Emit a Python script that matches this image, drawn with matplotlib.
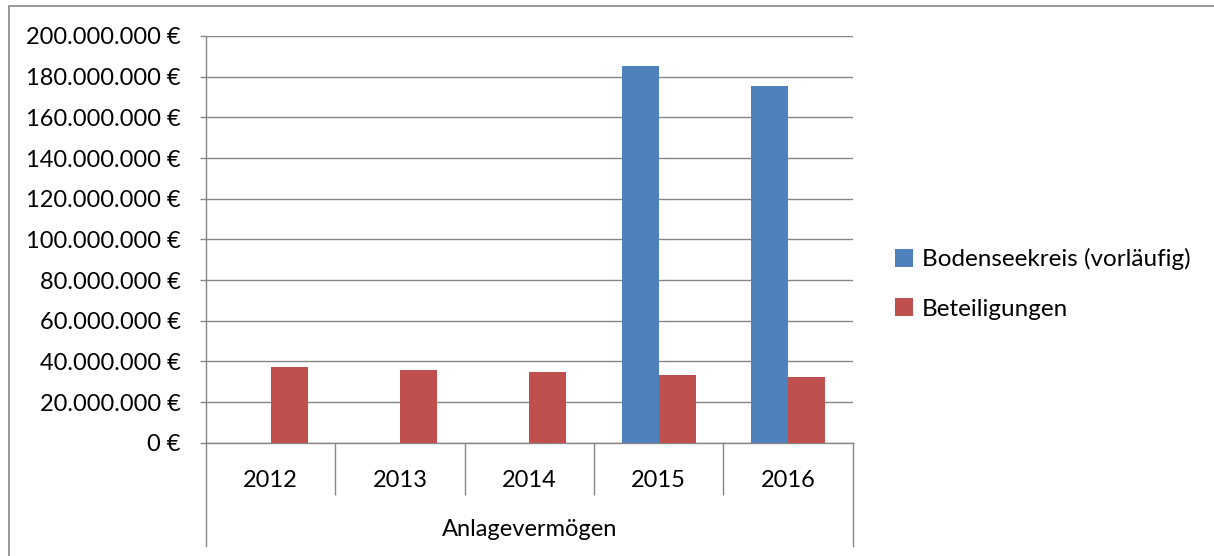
import matplotlib.pyplot as plt
import matplotlib.ticker as mticker
import matplotlib.transforms as mtransforms
from matplotlib.patches import Rectangle
import numpy as np

plt.rcParams['font.family'] = ['Lato', 'DejaVu Sans']

years = ['2012', '2013', '2014', '2015', '2016']
bodensee = [0, 0, 0, 185.4e6, 175.2e6]
beteiligungen = [37.4e6, 35.8e6, 34.7e6, 33.4e6, 32.3e6]
series_names = ['Bodenseekreis (vorläufig)', 'Beteiligungen']
group_label = 'Anlagevermögen'

W, H = 1214, 556
grey = '#868686'
fs = 17

fig = plt.figure(figsize=(W / 100, H / 100), dpi=100)
ax = fig.add_axes([206 / W, 1 - 442.7 / H, 646.7 / W, 406.7 / H])

x = np.arange(len(years))
bw = 1 / 3.5
b1 = ax.bar(x - bw / 2, bodensee, bw, color='#4F81BD', zorder=3, label=series_names[0])
b2 = ax.bar(x + bw / 2, beteiligungen, bw, color='#C0504D', zorder=3, label=series_names[1])

ax.set_xlim(-0.5, len(years) - 0.5)
ax.set_ylim(0, 200e6)
ax.yaxis.set_major_locator(mticker.MultipleLocator(20e6))
ax.yaxis.set_major_formatter(mticker.FuncFormatter(
    lambda v, p: f'{int(round(v)):,}'.replace(',', '.') + ' €'))
ax.grid(axis='y', color=grey, linewidth=1.0, zorder=0)

for s in ['top', 'right']:
    ax.spines[s].set_visible(False)
for s in ['left', 'bottom']:
    ax.spines[s].set_color(grey)
    ax.spines[s].set_linewidth(1.0)

ax.tick_params(axis='y', direction='out', length=4.3, width=1.0, color=grey,
               pad=14, labelsize=fs)
ax.set_xticks(x)
ax.set_xticklabels(years)
ax.tick_params(axis='x', which='major', length=0, pad=20, labelsize=fs)
ax.set_xticks(x[:-1] + 0.5, minor=True)
ax.tick_params(axis='x', which='minor', direction='out', length=37.5, width=1.0, color=grey)

# outer boundary lines of the category table below the axis
trans = mtransforms.blended_transform_factory(ax.transData, ax.transAxes)
for xe in [-0.5, len(years) - 0.5]:
    ax.plot([xe, xe], [0, -(546 - 442.7) / 406.7], color=grey, linewidth=1.0,
            transform=trans, clip_on=False)

ax.text(0.5, -(529 - 442.7) / 406.7, group_label, transform=ax.transAxes,
        ha='center', va='center', fontsize=fs)

fig.legend(handles=[b1, b2], loc='center left',
           bbox_to_anchor=(873 / W, 1 - 284 / H), frameon=False,
           fontsize=fs + 0.5, handlelength=0.75, handleheight=0.75,
           handletextpad=0.35, labelspacing=1.15)

fig.add_artist(Rectangle((8.5 / W, -0.1), 1.5, 1.1 - 6 / H, transform=fig.transFigure,
                         fill=False, edgecolor=grey, linewidth=1.2))

fig.savefig('out.png', dpi=100)
